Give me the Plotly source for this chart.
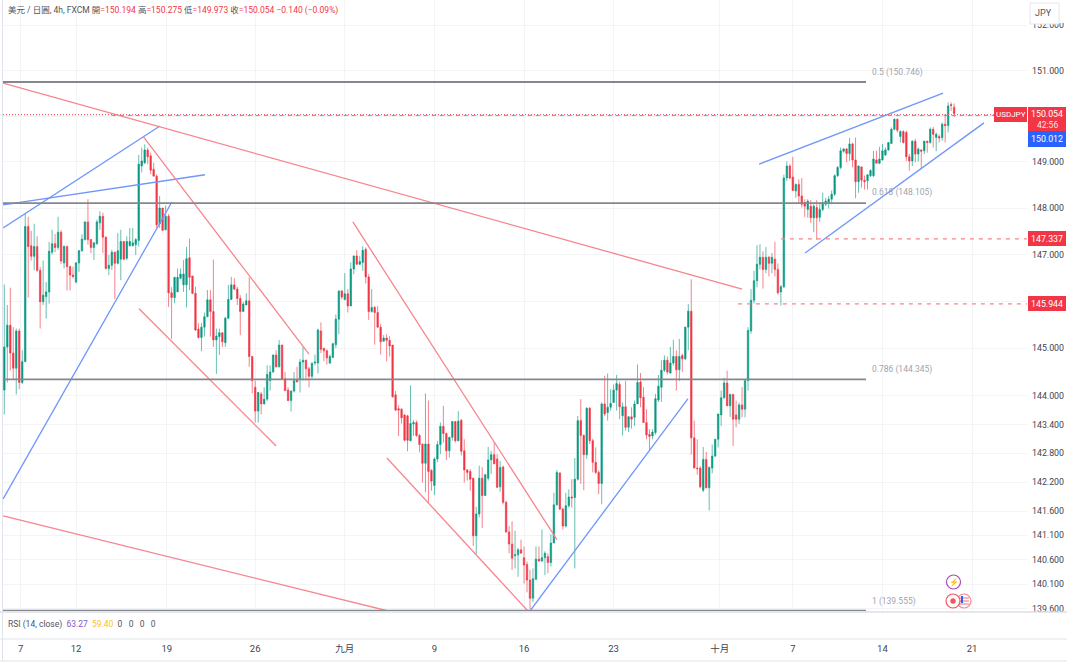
import numpy as np
import plotly.graph_objects as go

opens = [
144.12,145.03,145.49,144.90,144.58,145.37,144.28,144.72,147.60,147.19,
146.96,147.17,146.66,145.99,146.10,146.20,147.05,147.23,147.15,147.48,
146.82,147.17,146.74,146.56,146.41,146.82,147.08,147.32,147.70,147.32,
147.15,147.23,147.68,147.82,147.37,146.70,146.77,147.05,146.81,146.90,
147.28,146.92,147.19,147.19,147.21,147.30,148.91,148.98,149.26,149.13,
148.84,148.69,147.66,148.00,147.53,147.82,146.18,146.08,146.20,146.49,
146.35,146.35,146.93,146.54,146.17,145.41,145.23,145.45,145.67,146.03,
145.78,145.18,145.25,145.33,145.12,145.64,146.04,146.35,146.26,146.06,
145.78,145.92,146.01,144.83,144.18,143.68,144.04,143.83,143.93,144.32,
144.50,144.86,144.61,145.07,144.36,144.12,143.90,144.10,144.34,144.34,
144.71,144.75,144.57,144.41,144.69,144.69,145.37,145.00,144.95,144.69,
144.81,145.08,145.62,146.22,146.04,146.16,145.90,146.69,146.97,146.79,
146.83,147.11,146.52,145.78,145.87,145.76,145.45,145.15,145.22,145.17,
145.07,144.02,143.73,143.72,143.60,143.58,143.06,143.41,143.44,143.17,
142.99,142.59,142.99,142.44,142.13,142.68,142.98,143.36,143.21,142.85,
143.13,143.46,143.06,143.49,142.85,142.45,142.42,142.28,141.09,141.54,
142.28,141.92,142.28,142.66,142.77,142.68,142.10,142.51,141.78,141.17,
140.92,140.68,140.70,140.80,140.64,140.50,140.18,139.81,140.20,140.61,
140.57,140.64,140.66,140.54,140.94,141.73,142.39,141.64,141.29,141.71,
141.89,141.88,142.26,143.48,143.17,142.77,143.74,143.06,142.61,142.40,
142.17,143.83,143.65,143.76,143.86,144.12,144.24,143.58,143.77,143.34,
143.56,143.55,143.83,144.29,143.97,143.44,143.19,143.16,143.23,143.91,
144.18,144.54,144.75,144.48,144.69,144.83,144.55,144.85,144.78,145.45,
145.79,143.12,142.49,142.49,142.03,142.67,142.08,142.49,142.74,143.09,
143.60,143.96,144.27,143.79,144.03,143.60,143.51,143.81,143.72,144.32,
145.37,146.02,146.44,146.79,146.94,146.68,146.94,146.81,146.90,146.68,
146.20,146.31,148.65,148.91,148.67,148.37,148.51,148.26,148.12,147.97,
148.04,147.79,148.01,147.80,147.97,148.08,148.12,148.19,148.30,148.70,
148.88,149.23,149.28,149.18,149.39,149.04,148.57,148.89,148.60,148.59,
148.70,148.70,149.04,148.97,149.04,149.15,149.26,149.40,149.71,149.93,
149.55,149.66,149.64,149.11,149.02,149.45,149.17,149.26,149.24,149.45,
149.42,149.71,149.53,149.55,149.53,149.82,149.79,150.25,150.194]

highs = [
146.36,145.92,146.29,145.45,145.42,145.42,144.96,147.87,147.81,147.51,
147.66,147.39,146.73,146.87,146.41,147.27,147.53,147.44,147.81,147.52,
147.20,147.19,146.76,146.74,146.84,147.10,147.43,147.71,148.19,147.33,
147.27,147.75,147.93,147.90,147.39,146.99,147.10,147.06,147.46,147.53,
147.29,147.39,147.57,147.57,147.35,149.15,149.31,149.38,149.31,149.20,
148.98,148.73,148.26,148.00,148.05,147.87,146.30,146.52,146.70,146.70,
146.88,147.16,147.34,146.54,146.31,145.53,145.54,145.76,146.24,146.24,
146.89,145.42,145.42,145.34,145.67,146.35,146.52,146.49,146.31,146.13,
145.99,146.17,146.51,144.84,144.32,144.08,144.08,144.18,144.64,144.64,
144.87,144.96,145.18,145.08,144.50,144.18,144.11,144.50,144.61,144.78,
145.03,144.76,144.61,144.71,144.87,145.42,145.55,145.02,144.98,144.87,
145.12,145.72,146.23,146.24,146.60,146.26,146.83,146.97,147.09,146.97,
147.18,147.15,146.58,146.26,145.90,145.90,145.52,145.28,145.30,145.26,
145.07,144.10,143.80,143.74,143.61,143.60,144.22,143.49,143.48,143.20,
143.00,144.05,143.90,142.47,142.71,143.06,143.44,143.79,143.23,143.14,
143.47,143.47,143.68,143.51,143.09,142.47,142.47,142.29,141.69,142.54,
142.51,142.37,142.93,142.85,143.02,142.78,142.64,142.54,141.81,141.29,
141.39,141.19,140.84,141.01,140.87,140.56,140.39,140.42,140.87,140.87,
141.22,140.77,140.73,141.12,141.98,142.45,142.40,141.67,141.98,142.05,
142.26,142.70,143.58,143.93,143.19,143.76,143.76,143.10,142.92,142.44,
143.86,144.42,144.47,144.14,144.24,144.44,144.30,143.86,144.31,143.58,
143.76,143.90,144.66,144.48,144.18,143.72,143.30,143.30,144.04,144.44,
144.75,144.85,144.83,145.03,145.18,144.96,145.20,144.89,145.46,145.94,
146.47,143.48,143.09,142.53,142.93,142.83,142.53,142.98,143.09,143.62,
144.11,144.38,144.53,144.04,144.04,143.90,143.86,144.18,144.32,145.45,
146.26,146.65,147.20,147.22,147.07,147.16,146.97,147.03,147.27,146.81,
146.35,148.72,149.01,148.95,149.11,148.53,148.62,148.65,148.19,148.19,
148.17,148.08,148.17,148.12,148.33,148.22,148.26,148.38,148.73,148.91,
149.31,149.30,149.30,149.52,149.42,149.53,148.92,148.90,148.70,148.73,
148.84,149.24,149.24,149.33,149.39,149.31,149.43,149.75,149.94,149.94,
149.69,149.69,149.68,149.17,149.47,149.50,149.31,149.27,149.46,149.46,
149.75,149.76,149.64,149.60,149.86,150.04,150.30,150.30,150.275]

lows = [
143.61,144.28,144.53,144.35,144.03,144.14,144.25,144.71,146.08,146.87,
146.66,146.62,145.42,145.92,145.63,145.95,147.00,147.05,147.10,146.80,
146.70,146.23,146.23,146.49,146.38,146.63,147.06,147.30,147.21,147.03,
146.88,147.21,147.53,147.03,146.68,146.56,146.67,146.05,146.79,146.45,
146.88,146.88,147.17,147.17,146.99,147.17,148.77,148.95,148.95,148.73,
148.69,147.57,147.57,147.50,147.53,145.88,145.20,145.96,146.20,146.47,
146.20,145.87,146.24,146.15,145.37,145.21,144.94,145.25,145.67,145.25,
145.03,144.46,144.86,145.03,145.03,145.62,146.03,146.24,145.92,145.28,
145.78,145.92,144.61,144.05,143.44,143.44,143.61,143.82,143.89,144.11,
144.49,144.60,144.60,144.34,144.10,143.89,143.67,144.07,144.29,144.07,
144.32,144.32,144.18,144.36,144.64,144.47,144.90,144.73,144.66,144.67,
144.80,145.01,145.30,146.04,146.02,145.76,145.90,146.58,146.78,146.78,
146.65,146.38,145.60,145.76,145.08,145.44,144.87,145.15,144.73,144.83,
143.96,143.68,143.16,143.42,143.05,142.84,143.05,143.16,143.14,142.82,
142.19,141.99,141.78,142.02,141.93,142.61,142.78,143.02,142.66,142.71,
143.06,143.02,143.05,142.75,142.19,142.23,142.02,140.88,140.71,141.47,
141.25,141.91,142.23,142.37,142.57,142.08,142.00,141.74,141.15,140.73,
140.39,140.42,140.25,140.73,140.11,139.93,139.59,139.73,140.18,140.56,
140.56,140.28,140.32,140.46,140.94,141.71,141.62,141.22,141.26,141.67,
141.67,140.42,142.23,142.16,142.03,142.68,142.99,142.40,142.37,141.95,
141.74,143.58,143.48,143.69,143.86,143.69,143.51,143.17,143.27,143.24,
143.31,143.37,143.83,143.76,143.44,143.09,142.84,143.09,143.19,143.87,
143.87,144.50,144.45,144.47,144.64,144.11,144.31,144.50,144.75,144.96,
142.77,142.49,142.35,142.07,141.99,142.07,141.61,142.38,142.72,142.92,
143.37,143.94,143.79,143.56,142.95,143.34,143.41,143.55,143.55,144.11,
145.31,145.95,146.30,146.68,146.27,146.60,146.53,146.60,146.53,146.14,
145.91,146.28,148.59,148.62,148.37,148.22,148.09,148.01,147.80,147.79,
147.68,147.48,147.31,147.70,147.93,148.04,147.99,148.08,148.26,148.67,
148.84,149.20,148.99,149.02,148.88,148.21,148.33,148.44,148.40,148.40,
148.67,148.67,148.96,148.95,149.03,149.13,149.24,149.39,149.69,149.64,
149.42,149.40,149.02,148.81,148.91,148.99,149.01,148.84,149.17,149.20,
149.40,149.31,149.23,149.42,149.46,149.42,149.64,150.11,149.973]

closes = [
145.03,145.49,144.90,144.58,145.37,144.28,144.72,147.60,147.17,146.96,
147.17,146.66,145.99,146.13,146.20,147.07,147.23,147.15,147.48,146.86,
147.17,146.74,146.56,146.53,146.82,147.08,147.33,147.70,147.32,147.15,
147.25,147.70,147.82,147.37,146.70,146.77,147.05,146.81,147.08,147.28,
146.90,147.28,147.28,147.25,147.32,148.95,149.02,149.26,149.11,148.82,
148.69,147.64,148.00,147.52,147.82,146.18,146.08,146.51,146.51,146.58,
146.58,146.91,146.51,146.17,145.39,145.23,145.45,145.67,146.03,145.78,
145.18,145.26,145.33,145.14,145.64,146.04,146.35,146.26,146.06,145.78,
145.94,146.01,144.83,144.32,143.68,144.07,143.83,143.93,144.45,144.50,
144.86,144.61,145.07,144.36,144.11,143.90,144.10,144.32,144.29,144.71,
144.75,144.57,144.41,144.68,144.71,145.39,144.98,144.95,144.80,144.83,
145.10,145.62,146.22,146.09,146.16,145.90,146.69,146.97,146.79,146.85,
147.09,146.52,145.78,145.87,145.76,145.45,145.14,145.22,145.17,145.05,
143.98,143.70,143.70,143.54,143.07,143.07,143.42,143.44,143.17,142.98,
142.59,142.99,142.42,142.22,142.68,142.98,143.36,143.21,142.85,143.13,
143.46,143.06,143.47,142.84,142.45,142.40,142.26,141.09,141.54,142.28,
141.92,142.35,142.66,142.77,142.58,142.09,142.50,141.78,141.17,140.92,
140.63,140.70,140.80,140.73,140.49,140.18,139.81,140.21,140.61,140.57,
140.64,140.73,140.54,140.94,141.73,142.40,141.64,141.29,141.71,141.89,
141.87,142.26,143.48,143.17,142.77,143.74,143.06,142.61,142.40,142.17,
143.83,143.62,143.76,143.84,144.12,144.26,143.77,143.77,143.34,143.56,
143.51,143.83,144.28,143.96,143.44,143.18,143.15,143.24,143.94,144.20,
144.54,144.75,144.50,144.69,144.83,144.55,144.83,144.78,145.45,145.79,
143.12,142.49,142.48,142.10,142.67,142.08,142.50,142.74,143.09,143.62,
143.96,144.27,143.79,144.03,143.51,143.51,143.81,143.72,144.32,145.38,
146.02,146.44,146.79,146.94,146.68,146.94,146.81,146.94,146.68,146.18,
146.31,148.65,148.91,148.65,148.38,148.51,148.26,148.08,148.04,148.15,
147.79,148.04,147.79,147.97,148.12,148.15,148.19,148.30,148.70,148.88,
149.24,149.28,149.18,149.39,149.04,148.57,148.91,148.60,148.57,148.72,
148.81,149.06,148.97,149.06,149.24,149.26,149.42,149.71,149.93,149.69,
149.66,149.42,149.11,149.02,149.45,149.17,149.28,149.23,149.45,149.42,
149.71,149.60,149.60,149.52,149.82,149.79,150.22,150.23,150.054]

assert len(opens) == len(highs) == len(lows) == len(closes) == 319

date_ticks = [5.5, 24, 54.4, 84, 114, 144, 174, 204, 239.5, 264, 294, 324]
date_labels = ["7", "12", "19", "26", "九月", "9", "16", "23", "十月", "7", "14", "21"]
price_ticks = [139.6, 140.1, 140.6, 141.1, 141.6, 142.2, 142.8, 143.4, 144, 145, 146, 147, 148, 149, 150, 151, 152]
hidden_price_labels = [146, 150]

blue_lines = [
    ([-0.4, 52.1], [147.57, 149.78]),
    ([-0.4, 67.2], [148.07, 148.72]),
    ([-0.4, 56.1], [141.85, 148.13]),
    ([176, 228.9], [139.55, 143.94]),
    ([252.7, 314.3], [148.95, 150.50]),
    ([268.1, 328], [147.03, 149.85]),
]
red_lines = [
    ([-0.4, 247], [150.72, 146.26]),
    ([46.4, 102], [149.56, 144.88]),
    ([45.1, 91], [145.84, 142.95]),
    ([116.7, 185], [147.70, 141.01]),
    ([128.1, 175.3], [142.70, 139.55]),
    ([-0.4, 128.5], [141.50, 139.55]),
]
fib_levels = [150.746, 148.105, 144.345, 139.555]
fib_names = ["0.5 (150.746)", "0.618 (148.105)", "0.786 (144.345)", "1 (139.555)"]
level_prices = [147.337, 145.944]
level_starts = [260, 245.6]
last_price_line = 150.03
bid_price_line = 150.012

W, H = 1067, 663
L, R, T, B = 3, 1027, 0, 611
X_MIN, X_MAX = -0.44, 342.4
Y_MIN, Y_MAX = 139.55, 152.56
FONT = "Roboto, 'Noto Sans CJK TC', sans-serif"
GREEN, RED = "#089981", "#f23645"
BLUE_L, RED_L, FIB = "#6f96fb", "#f7858d", "#85878f"


def px(x):
    return (x - L) / (R - L)


def py(y):
    return 1 - (y - T) / (B - T)


fig = go.Figure()
fig.add_trace(go.Candlestick(
    x=list(range(len(opens))), open=opens, high=highs, low=lows, close=closes,
    increasing=dict(line=dict(color="rgba(8,153,129,0.62)", width=1), fillcolor=GREEN),
    decreasing=dict(line=dict(color="rgba(242,54,69,0.62)", width=1), fillcolor=RED),
    whiskerwidth=0, hoverinfo="skip",
))


def seg(xs, ys, color, width, dash="solid"):
    fig.add_trace(go.Scatter(x=xs, y=ys, mode="lines", hoverinfo="skip",
                             line=dict(color=color, width=width, dash=dash)))


for xs, ys in blue_lines:
    seg(xs, ys, BLUE_L, 1.3)
for xs, ys in red_lines:
    seg(xs, ys, RED_L, 1.3)
for lv in fib_levels:
    seg([X_MIN, 288.5], [lv, lv], FIB, 1.8)
for lv, st in zip(level_prices, level_starts):
    seg([st, X_MAX], [lv, lv], "#f7858d", 1.2, "4px,5px")
seg([36, X_MAX], [bid_price_line, bid_price_line], "#6f96fb", 1, "4px,4px")
seg([X_MIN, X_MAX], [last_price_line, last_price_line], "#f4606c", 1.1, "1px,2px")

shapes = []
annos = []


def box(x0, y0, x1, y1, fill, line=None, lw=0):
    shapes.append(dict(type="rect", xref="paper", yref="paper", layer="above",
                       x0=px(x0), x1=px(x1), y0=py(y1), y1=py(y0), fillcolor=fill,
                       line=dict(color=line or fill, width=lw)))


def hline(y, x0=0, x1=W, color="#e0e3eb", w=1):
    shapes.append(dict(type="line", xref="paper", yref="paper", layer="above",
                       x0=px(x0), x1=px(x1), y0=py(y), y1=py(y), line=dict(color=color, width=w)))


def circle(cx, cy, r, fill, line, lw=1.2):
    shapes.append(dict(type="circle", xref="paper", yref="paper", layer="above",
                       x0=px(cx - r), x1=px(cx + r), y0=py(cy + r), y1=py(cy - r),
                       fillcolor=fill, line=dict(color=line, width=lw)))


def text(x, y, s, size=9.5, color="#3f4350", anchor="left"):
    annos.append(dict(xref="paper", yref="paper", x=px(x), y=py(y), text=s, showarrow=False,
                      xanchor=anchor, yanchor="middle", borderpad=0, borderwidth=0,
                      font=dict(family=FONT, size=size, color=color)))


# panes and chrome
hline(612, color="#dcdfe6", w=1.5)
hline(639)
hline(661)
shapes.append(dict(type="line", xref="paper", yref="paper", layer="above",
                   x0=px(2.5), x1=px(2.5), y0=py(0), y1=py(661), line=dict(color="#e0e3eb", width=1)))

# right side labels
box(994, 107, 1027, 122, RED)
text(1010.5, 114.5, "USDJPY", 8, "white", "center")
box(1028, 107, 1066, 131, RED)
text(1047, 114.5, "150.054", 8.8, "white", "center")
text(1047, 125, "42:56", 8.5, "#ffe1e3", "center")
box(1028, 131, 1066, 147, "#2962ff")
text(1047, 139, "150.012", 8.8, "white", "center")
box(1028, 231, 1066, 246, RED)
text(1047, 238.5, "147.337", 8.8, "white", "center")
box(1028, 296, 1066, 311, RED)
text(1047, 303.5, "145.944", 8.8, "white", "center")

# currency button
box(1028, 0, 1067, 23, "white")
shapes.append(dict(type="rect", xref="paper", yref="paper", layer="above",
                   x0=px(1030), x1=px(1059), y0=py(24), y1=py(3), fillcolor="white",
                   line=dict(color="#e4e6ec", width=1)))
text(1043.5, 13.5, "JPY", 9, "#50535e", "center")

# header
hdr = ('<span style="color:#50535e">美元 / 日圓, 4h, FXCM 開</span>'
       '<span style="color:#f23645">=150.194</span>'
       '<span style="color:#50535e"> 高</span><span style="color:#f23645">=150.275</span>'
       '<span style="color:#50535e"> 低</span><span style="color:#f23645">=149.973</span>'
       '<span style="color:#50535e"> 收</span><span style="color:#f23645">=150.054 −0.140 (−0.09%)</span>')
text(8, 11, hdr, 8.5)

# RSI pane legend
rsi = ('RSI (14, close) &nbsp;<span style="color:#7e57c2">63.27</span> &nbsp;'
       '<span style="color:#fbc02d">59.40</span> &nbsp;'
       '<span style="color:#50535e">0 &nbsp;&nbsp;0 &nbsp;&nbsp;0 &nbsp;&nbsp;0</span>')
text(8, 624, rsi, 8.5, "#50535e")

# fib labels
for name, yy in zip(fib_names, [72, 193, 369, 601]):
    text(872, yy, name, 8.5, "#a1a4ad")

# event icons
circle(953.5, 582, 7, "white", "#ab47bc")
text(953.5, 582, "⚡", 8, "#ab47bc", "center")
circle(964, 601, 7, "white", "#f7858d")
for yy in [598, 601, 604]:
    hline(yy, 959, 969, "#f7858d", 1.2)
circle(953, 601, 7, "white", "#f7525f")
circle(953, 601, 2.5, "#f7525f", "#f7525f", 0.5)
box(961, 596, 963, 603, "#2962ff")

fig.update_layout(
    width=W, height=H, autosize=False, showlegend=False, hovermode=False,
    paper_bgcolor="white", plot_bgcolor="white",
    margin=dict(l=L, r=W - R, t=T, b=H - B, pad=0),
    shapes=shapes, annotations=annos,
    xaxis=dict(range=[X_MIN, X_MAX], tickmode="array", tickvals=date_ticks, ticktext=date_labels,
               automargin=False,
               showgrid=True, gridcolor="#f3f4f6", gridwidth=1, zeroline=False, showline=False,
               ticks="", ticklabelstandoff=30, rangeslider=dict(visible=False),
               tickfont=dict(family=FONT, size=9.5, color="#3f4350")),
    yaxis=dict(type="log", range=[np.log10(Y_MIN), np.log10(Y_MAX)], side="right",
               automargin=False,
               tickmode="array", tickvals=price_ticks,
               ticktext=["" if v in hidden_price_labels else f"{v:.3f}" for v in price_ticks],
               showgrid=True, gridcolor="#f3f4f6", gridwidth=1, zeroline=False, showline=False,
               ticks="", ticklabelstandoff=4,
               tickfont=dict(family=FONT, size=8.8, color="#3f4350")),
)

fig.write_html("out.html", config=dict(displayModeBar=False),
               post_script=("document.documentElement.style.overflow='hidden';"
                            "document.body.style.margin='0';document.body.style.overflow='hidden';"))
